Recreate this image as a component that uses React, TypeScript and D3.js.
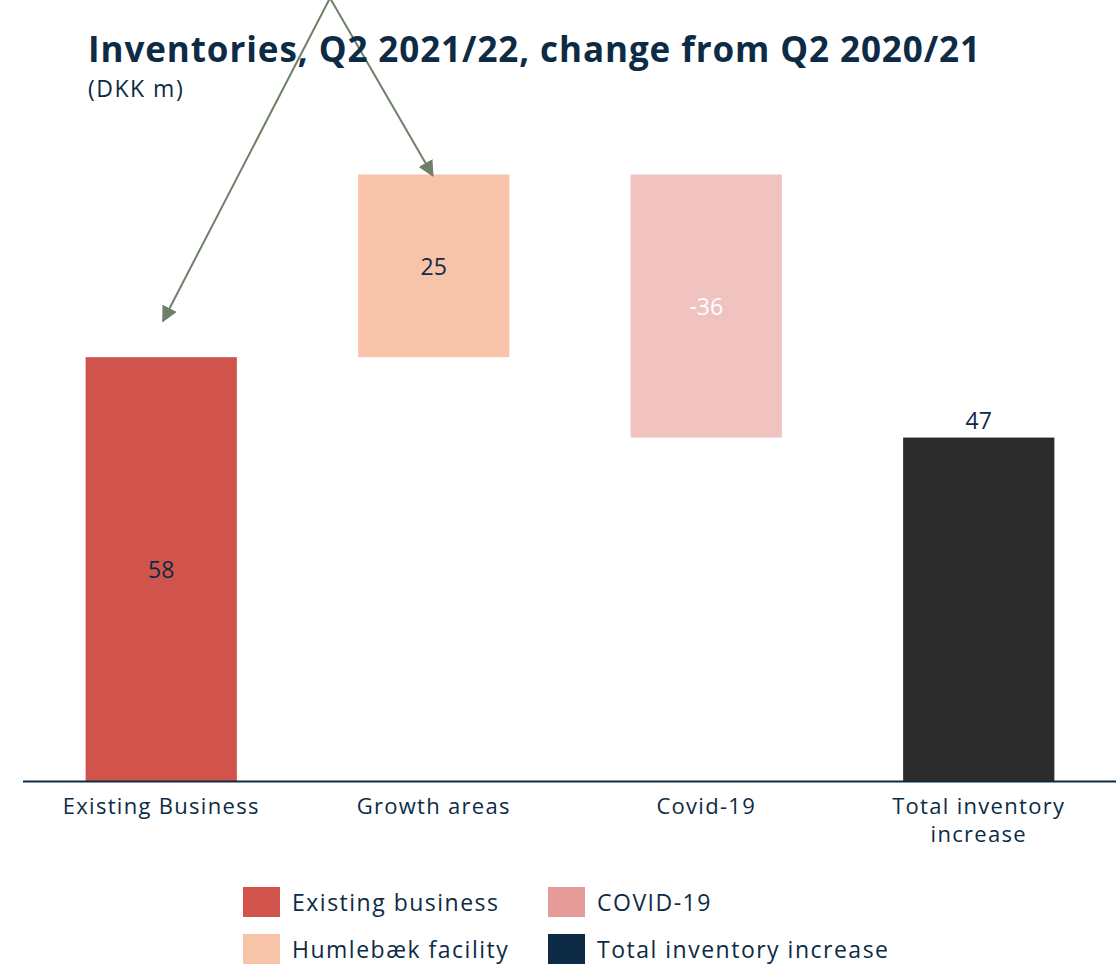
import React from "react";
import * as d3 from "d3";

const categories = ["Existing Business", "Growth areas", "Covid-19", "Total inventory increase"];
const values = [58, 25, -36, 47];
const isTotal = [false, false, false, true];
const barColors = ["#D0534C", "#F8C4A9", "#F0C3C0", "#2B2B2B"];
const labelColors = ["#0D2B45", "#0D2B45", "#FFFFFF", "#0D2B45"];
const legendItems = ["Existing business", "COVID-19", "Humlebæk facility", "Total inventory increase"];
const legendColors = ["#D0534C", "#E59C98", "#F8C4A9", "#0D2B45"];

const W = 1116;
const H = 966;
const NAVY = "#0D2B45";
const FONT = "'Open Sans', 'DejaVu Sans', sans-serif";

export default function App() {
  let run = 0;
  const bars = values.map((v, i) => {
    let y0, y1;
    if (isTotal[i]) {
      y0 = 0;
      y1 = v;
      run = v;
    } else {
      y0 = run;
      y1 = run + v;
      run = y1;
    }
    return { cat: categories[i], v, lo: Math.min(y0, y1), hi: Math.max(y0, y1), i };
  });

  const x = d3.scaleBand<string>().domain(categories).range([25, 1115]).paddingInner(0.445).paddingOuter(0.2225);
  const y = d3.scaleLinear().domain([0, 83]).range([781, 174.5]);

  const bw = x.bandwidth();

  const arrowColor = "#6E8068";
  const apex = { x: 330, y: -2 };
  const tip1 = { x: 163, y: 321 };
  const tip2 = { x: x("Growth areas")! + bw / 2 - 1, y: y(83) + 1 };

  const catLines = (c: string) => (c === "Total inventory increase" ? ["Total inventory", "increase"] : [c]);

  return (
    <svg width={W} height={H} style={{ display: "block", position: "absolute", left: 0, top: 0 }} fontFamily={FONT}>
      <defs>
        <marker id="ah2" viewBox="0 0 10 10" refX="9" refY="5" markerWidth="16" markerHeight="16" orient="auto" markerUnits="userSpaceOnUse">
          <path d="M0,0 L10,5 L0,10 Z" fill={arrowColor} />
        </marker>
      </defs>
      <rect width={W} height={H} fill="#fff" />

      {bars.map((b) => (
        <rect key={b.cat} x={x(b.cat)} y={y(b.hi)} width={bw} height={y(b.lo) - y(b.hi)} fill={barColors[b.i]} />
      ))}

      {bars.map((b) => {
        const cx = x(b.cat)! + bw / 2;
        const cy = isTotal[b.i] ? y(b.hi) - 9 : (y(b.hi) + y(b.lo)) / 2 + 9;
        return (
          <text key={"l" + b.cat} x={cx} y={cy} textAnchor="middle" fontSize={23} fill={labelColors[b.i]}>
            {b.v}
          </text>
        );
      })}

      <line x1={23} x2={1116} y1={y(0) + 0.5} y2={y(0) + 0.5} stroke={NAVY} strokeWidth={2} />

      {categories.map((c) =>
        catLines(c).map((ln, j) => (
          <text key={c + j} x={x(c)! + bw / 2} y={814 + j * 28} textAnchor="middle" fontSize={22} letterSpacing={1.3} fill={NAVY}>
            {ln}
          </text>
        ))
      )}

      <line x1={apex.x} y1={apex.y} x2={tip1.x} y2={tip1.y} stroke={arrowColor} strokeWidth={2} markerEnd="url(#ah2)" />
      <line x1={apex.x} y1={apex.y} x2={tip2.x} y2={tip2.y} stroke={arrowColor} strokeWidth={2} markerEnd="url(#ah2)" />

      <text x={88} y={62} fontSize={35} fontWeight={700} fill={NAVY} textLength={892} lengthAdjust="spacing">
        Inventories, Q2 2021/22, change from Q2 2020/21
      </text>
      <text x={88} y={97} fontSize={23} letterSpacing={1.5} fill={NAVY}>
        (DKK m)
      </text>

      {legendItems.map((t, i) => {
        const col = i % 2;
        const row = Math.floor(i / 2);
        const lx = col === 0 ? 243 : 548;
        const ly = row === 0 ? 887 : 934;
        return (
          <g key={t}>
            <rect x={lx} y={ly} width={37} height={30} fill={legendColors[i]} />
            <text x={lx + 49} y={ly + 24} fontSize={23} letterSpacing={1.5} fill={NAVY}>
              {t}
            </text>
          </g>
        );
      })}
    </svg>
  );
}
